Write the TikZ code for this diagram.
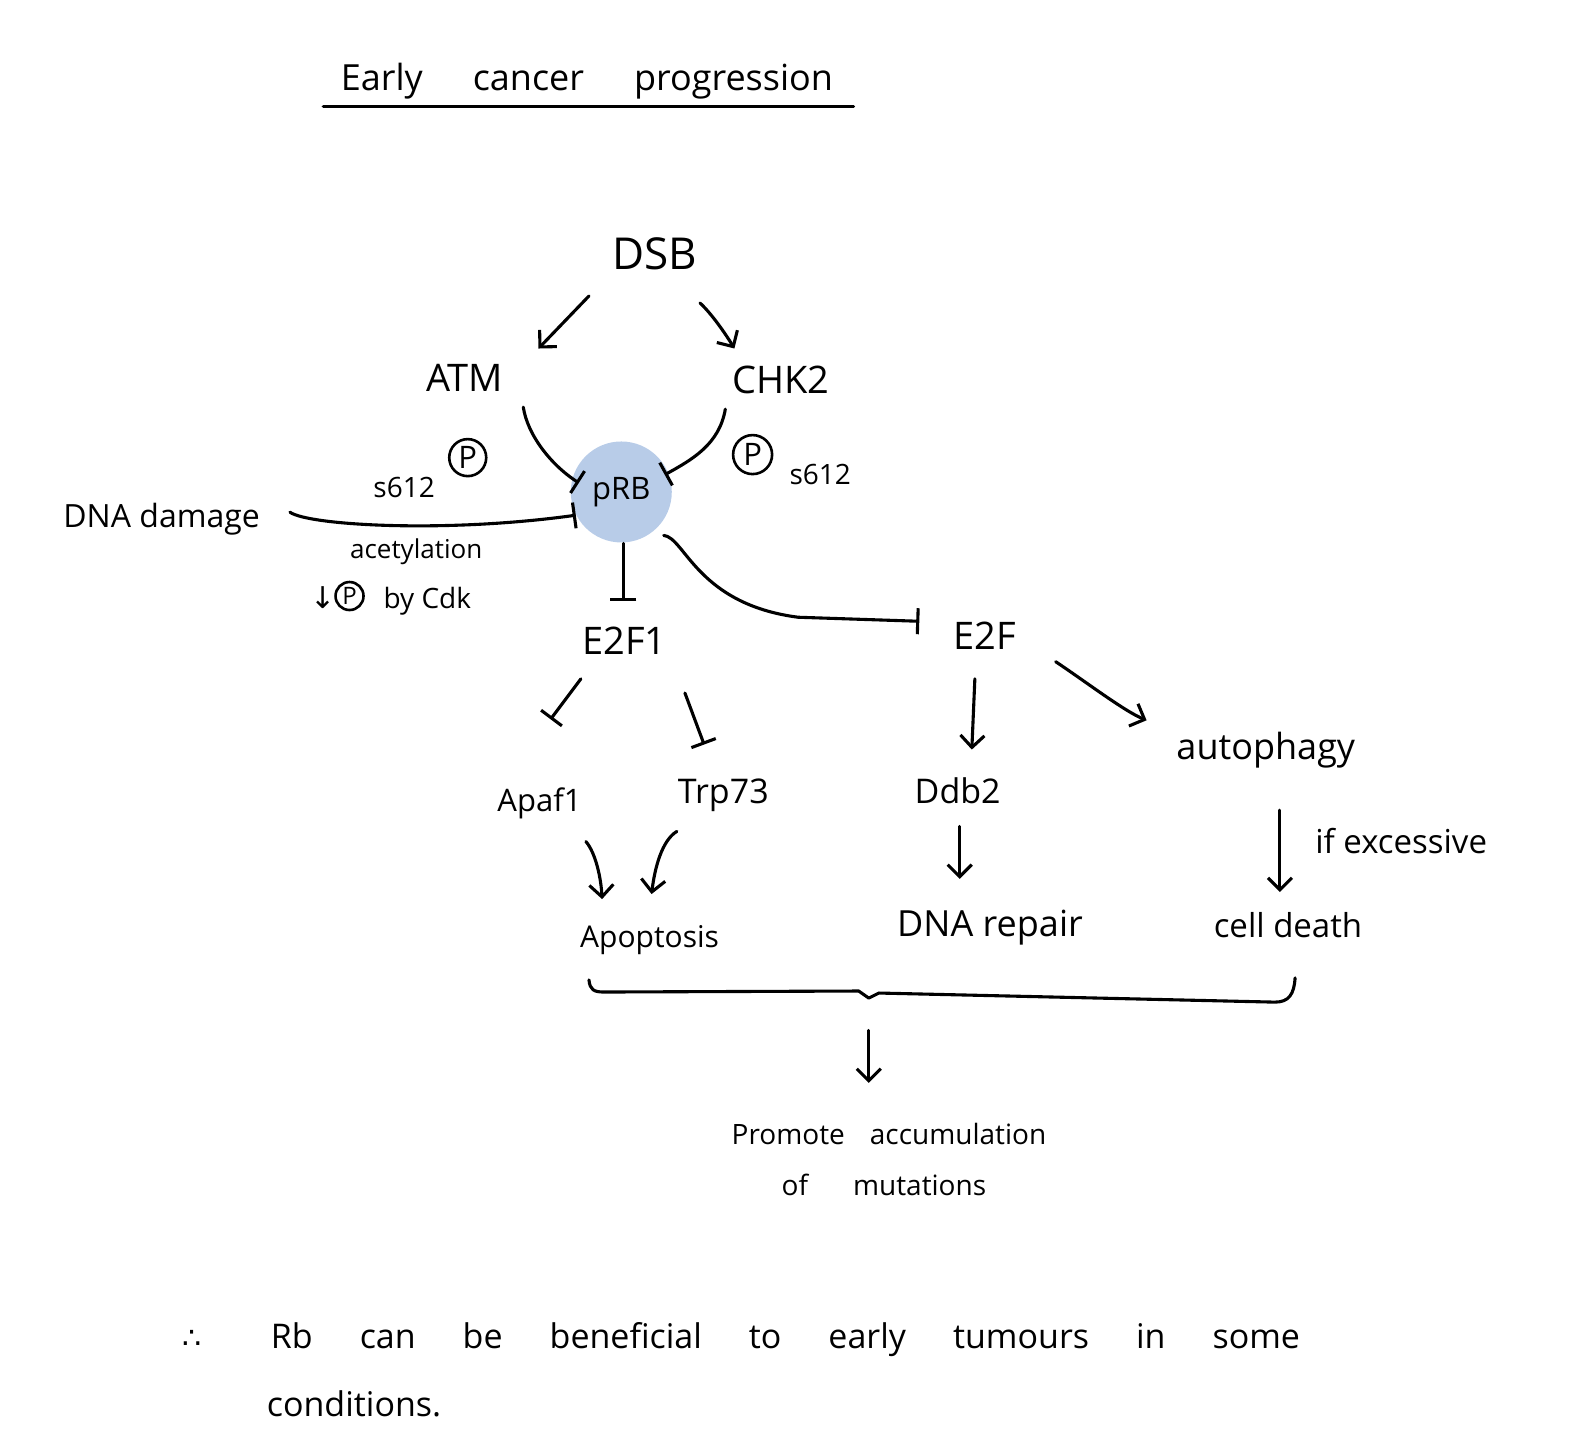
\documentclass[tikz,border=0pt]{standalone}
\usepackage{fontspec}
\setmainfont{Open Sans}
\newfontfamily\symfont{DejaVu Sans}
\usetikzlibrary{arrows.meta,calc}
\definecolor{prbblue}{RGB}{184,204,232}
\begin{document}
\begin{tikzpicture}[x=1.0102pt,y=-1.0102pt,
  lw/.style={line width=3.1pt, line cap=round, line join=round},
  txt/.style={font=\fontsize{#1}{#1}\selectfont, inner sep=0pt, anchor=base},
  act/.style={lw, -{Straight Barb[length=12pt,width=24pt]}},
  inh/.style={lw, -{Bar[width=26pt]}},
  pcirc/.style={circle, draw, line width=2.6pt, minimum size=#1, inner sep=0pt, text height=22pt, text depth=0pt, font=\fontsize{31}{31}\selectfont},
]
\useasboundingbox (0,0) rectangle (1568,1429);

% title
\node[txt=36] (title) at (581,90) {Early\hspace{50pt}cancer\hspace{50pt}progression};
\draw[lw] ($(title.base)+(-261,15)$) -- ($(title.base)+(264,15)$);

% nodes
\node[txt=44] (DSB) at (648,267) {DSB};
\node[txt=38] (ATM) at (460,388) {ATM};
\node[txt=38] (CHK2) at (773,390) {CHK2};
\node[circle, fill=prbblue, minimum size=101pt, inner sep=0pt, font=\fontsize{31}{31}\selectfont] (pRB) at (615,487) {pRB};
\node[txt=38] (E2F1) at (618,648) {E2F1};
\node[txt=38] (E2F) at (975,643) {E2F};
\node[txt=32] (DNAdamage) at (160,522) {DNA damage};
\node[pcirc=37pt] (P1) at (463,453) {P};
\node[txt=28] (s612a) at (400,492) {s612};
\node[pcirc=39pt] (P2) at (745,450) {P};
\node[txt=28] (s612b) at (812,480) {s612};
\node[txt=26] (acetyl) at (412,553) {acetylation};
\node[txt=28, font=\symfont\fontsize{30}{30}\selectfont] (down) at (320,602) {↓};
\node[pcirc=28pt, text height=17pt, font=\fontsize{24}{24}\selectfont] (P3) at (346,590) {P};
\node[txt=28] (bycdk) at (423,602) {by Cdk};
\node[txt=31] (Apaf1) at (534,803) {Apaf1};
\node[txt=34] (Trp73) at (716,795) {Trp73};
\node[txt=34] (Ddb2) at (948,795) {Ddb2};
\node[txt=36] (autophagy) at (1253,752) {autophagy};
\node[txt=30] (Apoptosis) at (643,938) {Apoptosis};
\node[txt=36] (DNArepair) at (980,927) {DNA repair};
\node[txt=33] (celldeath) at (1275,928) {cell death};
\node[txt=33] (ifexc) at (1387,845) {if excessive};
\node[txt=28] (Promote1) at (880,1133) {Promote\hspace{25pt}accumulation};
\node[txt=28] (Promote2) at (875,1183) {of\hspace{45pt}mutations};
\node[txt=30, font=\symfont\fontsize{30}{30}\selectfont] (therefore) at (190,1335) {∴};
\node[txt=34, anchor=base west] (concl1) at (268,1335) {Rb\hspace{47pt}can\hspace{47pt}be\hspace{47pt}beneficial\hspace{47pt}to\hspace{47pt}early\hspace{47pt}tumours\hspace{47pt}in\hspace{47pt}some};
\node[txt=34, anchor=base west] (concl2) at (264,1402) {conditions.};

% connectors
\draw[act] ($(DSB.base)+(-65,26)$) -- ($(ATM.base)+(73,-43)$);
\draw[act] ($(DSB.base)+(45,33)$) .. controls ($(DSB.base)+(58,45)$) and ($(CHK2.base)+(-52,-55)$) .. ($(CHK2.base)+(-46,-45)$);
\draw[inh] ($(ATM.base)+(58,15)$) .. controls ($(ATM.base)+(62,42)$) and ($(pRB)+(-70,-27)$) .. ($(pRB)+(-42,-9)$);
\draw[inh] ($(CHK2.base)+(-55,15)$) .. controls ($(CHK2.base)+(-61,50)$) and ($(pRB)+(70,-32)$) .. ($(pRB)+(43,-17)$);
\draw[inh] ($(DNAdamage.base)+(127,-15)$) .. controls ($(DNAdamage.base)+(145,-2)$) and ($(pRB)+(-175,41)$) .. ($(pRB)+(-45,23)$);
\draw[inh] ($(pRB)+(2,51)$) -- ($(E2F1.base)+(-1,-53)$);
\draw[inh] ($(pRB)+(42,43)$) .. controls ($(pRB)+(63,45)$) and ($(pRB)+(75,111)$) .. ($(E2F.base)+(-185,-32)$) -- ($(E2F.base)+(-65,-28)$);
\draw[inh] ($(E2F1.base)+(-43,24)$) -- ($(Apaf1.base)+(11,-91)$);
\draw[inh] ($(E2F1.base)+(60,38)$) -- ($(Trp73.base)+(-19,-58)$);
\draw[act] ($(Apaf1.base)+(46,30)$) .. controls ($(Apaf1.base)+(56,42)$) and ($(Apoptosis.base)+(-48,-68)$) .. ($(Apoptosis.base)+(-47,-48)$);
\draw[act] ($(Trp73.base)+(-46,28)$) .. controls ($(Trp73.base)+(-61,37)$) and ($(Apoptosis.base)+(5,-78)$) .. ($(Apoptosis.base)+(2,-53)$);
\draw[act] ($(E2F.base)+(-10,29)$) -- ($(Ddb2.base)+(14,-53)$);
\draw[act] ($(Ddb2.base)+(2,23)$) -- ($(DNArepair.base)+(-30,-57)$);
\draw[act] ($(E2F.base)+(70,12)$) .. controls ($(E2F.base)+(100,32)$) and ($(autophagy.base)+(-140,-48)$) .. ($(autophagy.base)+(-118,-39)$);
\draw[act] ($(autophagy.base)+(14,50)$) -- ($(celldeath.base)+(-8,-45)$);

% brace
\coordinate (bracetip) at (860,988);
\draw[lw] (583,970) .. controls (584,980) and (588,982) .. (598,982) -- (850,981) -- (bracetip) -- (870,983) -- (1262,992) .. controls (1276,992) and (1281,984) .. (1282,968);
\draw[act] ($(bracetip)+(0,32)$) -- ($(Promote1.base)+(-20,-61)$);
\end{tikzpicture}
\end{document}
